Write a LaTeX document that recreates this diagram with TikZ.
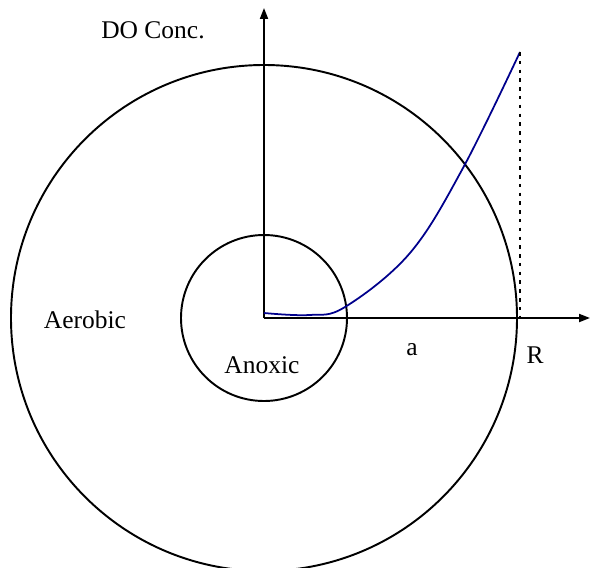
\documentclass[tikz,border=0pt]{standalone}
\usepackage{fontspec}
\setmainfont{Liberation Serif}
\usetikzlibrary{arrows.meta, positioning, calc}

\begin{document}
\begin{tikzpicture}[
    ring/.style={draw, line width=1.1pt},
    axis/.style={-{Triangle[length=2.2mm,width=1.6mm]}, line width=1.1pt},
    profile/.style={line width=1pt, color=blue!55!black},
    label/.style={font=\fontsize{14.5}{17}\selectfont, inner sep=0pt}
  ]
  \useasboundingbox (-5.28,-4.98) rectangle (6.62,6.36);

  % ---- Zonen ----
  \coordinate (O) at (0,0);
  \draw[ring] (O) circle (5.06);
  \draw[ring] (O) circle (1.66);

  % ---- Achsen ----
  \coordinate (ytop) at (0,6.2);
  \coordinate (xend) at (6.52,0);
  \draw[axis] (O) -- (ytop);
  \draw[axis] (O) -- (xend);

  % ---- DO-Profil ----
  \coordinate (peak) at (5.12,5.32);
  \coordinate (foot) at (5.12,0);
  \draw[profile] plot[smooth, tension=0.6] coordinates {
      (0,0.1) (0.9,0.06) (1.62,0.22) (2.92,1.30) (3.98,3.0) (5.12,5.32)};
  \draw[dashed, line width=0.8pt, dash pattern=on 2pt off 3pt] (peak) -- (foot);

  % Beschriftung
  \node[label] (conc) at (-2.22,5.76) {DO Conc.};
  \node[label] (aerobic) at (-3.58,-0.04) {Aerobic};
  \node[label] (anoxic) at (-0.04,-0.94) {Anoxic};
  \node[label] (a) at (2.96,-0.64) {a};
  \node[label] (R) at (5.42,-0.74) {R};
\end{tikzpicture}
\end{document}
